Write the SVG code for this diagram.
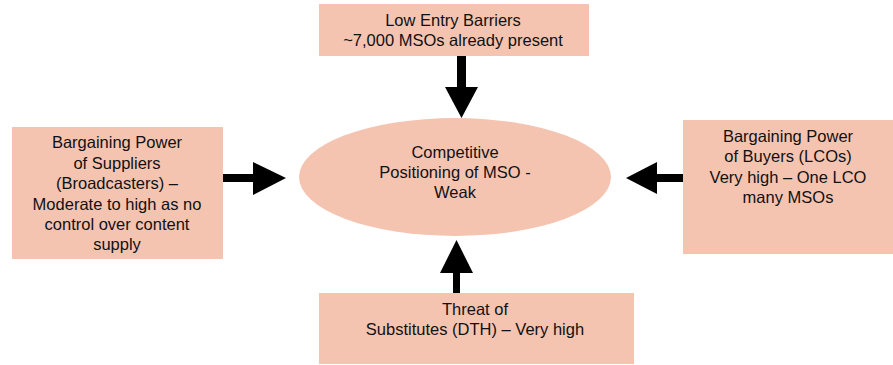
<svg xmlns="http://www.w3.org/2000/svg" width="893" height="365" viewBox="0 0 893 365">
<style>
.box{fill:#F5C4B1;}
.t{font-family:"Liberation Sans",Arial,sans-serif;font-size:16.5px;fill:#111;text-anchor:middle;}
.arr{fill:#000;}
</style>
<rect width="893" height="365" fill="#fff"/>
<g id="center">
<ellipse class="box" cx="455" cy="177" rx="156" ry="59"/>
<text class="t" x="455" y="158">Competitive</text>
<text class="t" x="455" y="178">Positioning of MSO -</text>
<text class="t" x="455" y="198">Weak</text>
</g>
<g id="entry">
<rect class="box" x="319" y="4" width="270" height="52"/>
<text class="t" x="453" y="26">Low Entry Barriers</text>
<text class="t" x="453" y="46">~7,000 MSOs already present</text>
</g>
<g id="suppliers">
<rect class="box" x="12" y="127" width="211" height="132"/>
<text class="t" x="117" y="148">Bargaining Power</text>
<text class="t" x="117" y="169">of Suppliers</text>
<text class="t" x="117" y="189">(Broadcasters) –</text>
<text class="t" x="117" y="210">Moderate to high as no</text>
<text class="t" x="117" y="230">control over content</text>
<text class="t" x="117" y="250">supply</text>
</g>
<g id="buyers">
<rect class="box" x="683" y="120" width="210" height="134"/>
<text class="t" x="788" y="142">Bargaining Power</text>
<text class="t" x="788" y="162">of Buyers (LCOs)</text>
<text class="t" x="788" y="183">Very high – One LCO</text>
<text class="t" x="788" y="203">many MSOs</text>
</g>
<g id="substitutes">
<rect class="box" x="319" y="293" width="315" height="71"/>
<text class="t" x="475" y="315">Threat of</text>
<text class="t" x="475" y="335">Substitutes (DTH) – Very high</text>
</g>
<g id="connectors">
<polygon class="arr" points="457,56 466,56 466,87 478,87 461.5,118 445,87 457,87"/>
<polygon class="arr" points="223,174 253,174 253,162 286,178 253,195 253,182 223,182"/>
<polygon class="arr" points="683,174 657,174 657,162 626,178 657,194 657,182 683,182"/>
<polygon class="arr" points="453,293 460,293 460,273 473,273 456.5,240 440,273 453,273"/>
</g>
</svg>
